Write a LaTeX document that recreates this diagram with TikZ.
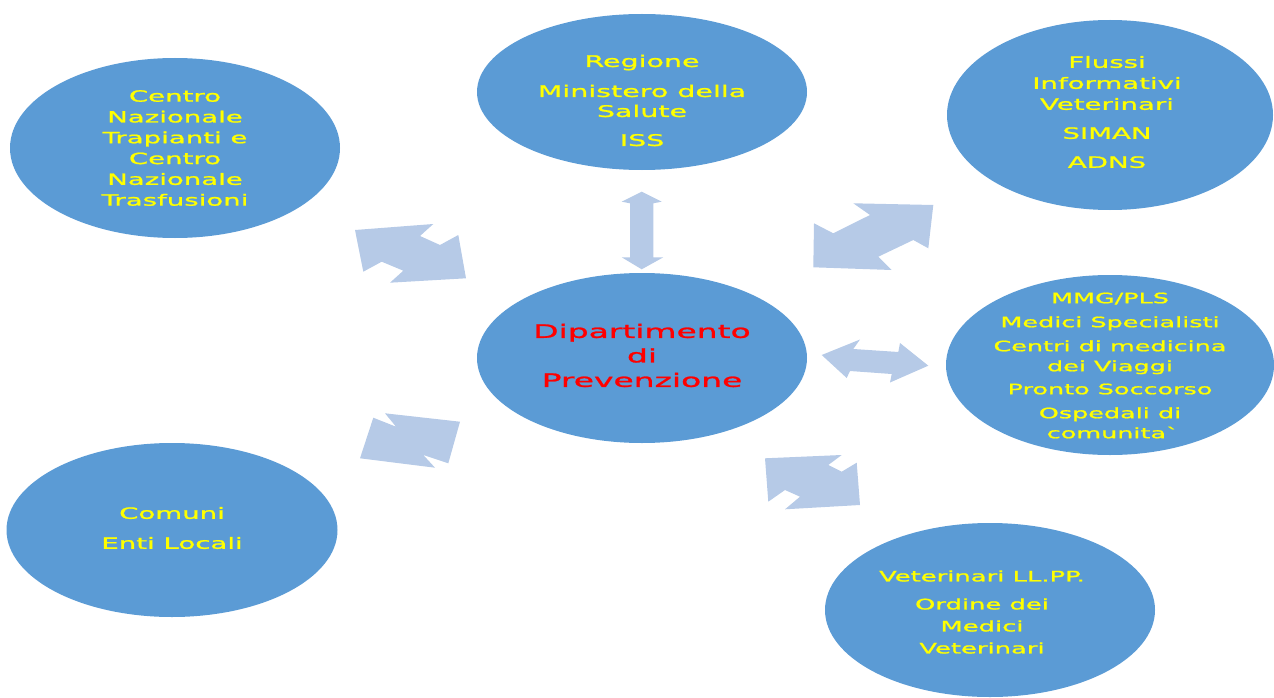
\documentclass[tikz,border=0pt]{standalone}
\usepackage{fontspec}
\usetikzlibrary{shapes.geometric}
\newfontfamily\tf[FakeStretch=1.78,FakeBold=1.3]{DejaVu Sans}
\definecolor{ellblue}{RGB}{91,155,213}
\definecolor{arrblue}{RGB}{182,202,231}
\definecolor{txtyellow}{RGB}{255,255,0}
\definecolor{txtred}{RGB}{255,0,0}
\tikzset{
  ell/.style={ellipse, fill=ellblue, draw=none, inner sep=0pt},
  lbl/.style={align=center, text=txtyellow, inner sep=0pt},
  blockarrow/.style={fill=arrblue, draw=none},
}
\begin{document}
\begin{tikzpicture}[x=1pt,y=-1pt]
\useasboundingbox (0,0) rectangle (1274,698);
% ellipses
\node[ell, minimum width=330, minimum height=180] (tl) at (175,148) {};
\node[ell, minimum width=330, minimum height=156] (tc) at (642,92) {};
\node[ell, minimum width=326, minimum height=190] (tr) at (1110,115) {};
\node[ell, minimum width=330, minimum height=170] (cc) at (642,358) {};
\node[ell, minimum width=328, minimum height=180] (rr) at (1110,365) {};
\node[ell, minimum width=331, minimum height=174] (bl) at (172,530) {};
\node[ell, minimum width=330, minimum height=174] (br) at (990,610) {};
% texts
\node[lbl, font=\tf\fontsize{15.5}{20.8}\selectfont] (ttl) at (175,148)
  {Centro\\Nazionale\\Trapianti e\\Centro\\Nazionale\\Trasfusioni};
\node[lbl, font=\tf\fontsize{16}{20}\selectfont] (ttc) at (642,100.5)
  {Regione\\[10pt]Ministero della\\Salute\\[9pt]ISS};
\node[lbl, font=\tf\fontsize{15.5}{21}\selectfont] (ttr) at (1107,112)
  {Flussi\\Informativi\\Veterinari\\[8pt]SIMAN\\[8pt]ADNS};
\node[lbl, text=txtred, font=\tf\fontsize{18.5}{24.5}\selectfont] (tcc) at (642,355.5)
  {Dipartimento\\di\\Prevenzione};
\node[lbl, font=\tf\fontsize{14.3}{20}\selectfont] (trr) at (1110,365.5)
  {MMG/PLS\\[4pt]Medici Specialisti\\[4pt]Centri di medicina\\dei Viaggi\\[3pt]Pronto Soccorso\\[4pt]Ospedali di\\comunita\textasciigrave};
\node[lbl, font=\tf\fontsize{15.5}{20}\selectfont] (tbl) at (172,528)
  {Comuni\\[10pt]Enti Locali};
\node[lbl, font=\tf\fontsize{14.5}{22}\selectfont] (tbr) at (982,612)
  {Veterinari LL.PP.\\[6pt]Ordine dei\\Medici\\Veterinari};
% block double arrows
\fill[blockarrow] (641.7,191.7) -- (661.7,201.7) -- (653.3,203.3) -- (653.3,257.3)
  -- (663.3,257.3) -- (641.7,269.3) -- (621.7,257.3) -- (630,257.3) -- (630,203.3)
  -- (621.7,201.7) -- cycle;
\fill[blockarrow] (355,230) -- (433.3,224) -- (420,236) -- (440,245) -- (458.3,235)
  -- (466,278.3) -- (390,282.7) -- (403.3,270.7) -- (381.7,261.7) -- (363.3,271.7) -- cycle;
\fill[blockarrow] (853.3,203.3) -- (933.3,205) -- (928.3,248.3) -- (913.3,240)
  -- (878.3,256.7) -- (891.7,270) -- (813.3,267.3) -- (814,223.3) -- (833.3,233.3)
  -- (870,215) -- cycle;
\fill[blockarrow] (821.7,355) -- (860,339.5) -- (853.3,349) -- (898.3,352) -- (900,343)
  -- (928.3,365.7) -- (890,382.5) -- (891.7,374) -- (850,371) -- (846.7,378) -- cycle;
\fill[blockarrow] (385,413.3) -- (460,421.7) -- (448.3,463.3) -- (423.3,455)
  -- (435,467.7) -- (360,458.3) -- (373.3,417.7) -- (396,426.7) -- cycle;
\fill[blockarrow] (765,458.3) -- (841.7,455) -- (828.3,465) -- (841.7,471.7) -- (856.7,462.7)
  -- (860,505) -- (785,509.3) -- (800,496.7) -- (785,490) -- (768.3,501.7) -- cycle;
\end{tikzpicture}
\end{document}
